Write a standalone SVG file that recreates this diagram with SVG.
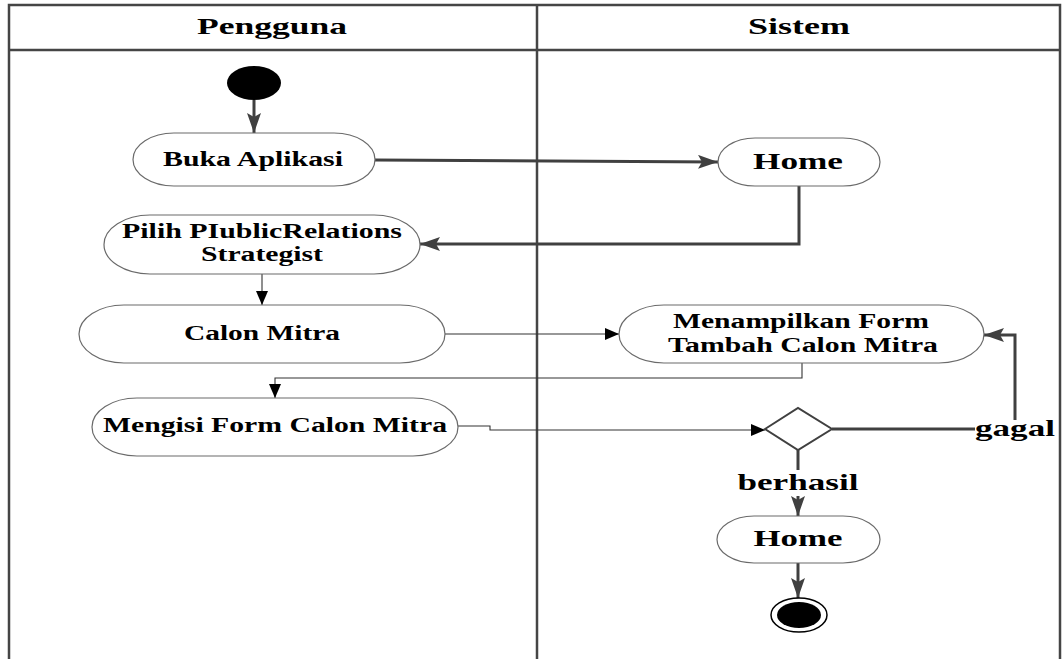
<svg xmlns="http://www.w3.org/2000/svg" width="1063" height="659" viewBox="0 0 1063 659">
  <style>
    .frame { fill: none; stroke: #454545; stroke-width: 2.5; }
    .act { fill: #fff; stroke: #6a6a6a; stroke-width: 1.2; }
    .lbl { font-family: "Liberation Serif", "Times New Roman", serif; font-weight: bold; fill: #000; }
    .thick { fill: none; stroke: #404040; stroke-width: 3; }
    .thin { fill: none; stroke: #333; stroke-width: 1.1; }
  </style>
  <defs>
    <marker id="bigArrow" markerUnits="userSpaceOnUse" markerWidth="22" markerHeight="16" refX="20" refY="7" orient="auto">
      <path d="M0,0 L20,7 L0,14 L4,7 Z" fill="#404040"/>
    </marker>
    <marker id="smallArrow" markerUnits="userSpaceOnUse" markerWidth="16" markerHeight="14" refX="14" refY="6" orient="auto">
      <path d="M0,0 L14,6 L0,12 Z" fill="#000"/>
    </marker>
  </defs>

  <rect width="1063" height="659" fill="#fff"/>

  <!-- swimlane frame -->
  <g id="lanes">
    <path class="frame" d="M9,670 L9,5 L1060,5 L1060,670"/>
    <line class="frame" x1="9" y1="50" x2="1060" y2="50"/>
    <line class="frame" x1="537" y1="5" x2="537" y2="670"/>
    <text class="lbl" x="272" y="34" font-size="23" text-anchor="middle" textLength="150" lengthAdjust="spacingAndGlyphs">Pengguna</text>
    <text class="lbl" x="799" y="34" font-size="23" text-anchor="middle" textLength="102" lengthAdjust="spacingAndGlyphs">Sistem</text>
  </g>

  <!-- connectors -->
  <g id="connectors">
    <line class="thick" x1="254" y1="100" x2="254" y2="133" marker-end="url(#bigArrow)"/>
    <line class="thick" x1="375" y1="160" x2="718" y2="162" marker-end="url(#bigArrow)"/>
    <polyline class="thick" points="799,186 799,244 420,244" marker-end="url(#bigArrow)"/>
    <line class="thin" x1="262" y1="274" x2="262" y2="305" marker-end="url(#smallArrow)"/>
    <line class="thin" x1="445" y1="334" x2="619" y2="334" marker-end="url(#smallArrow)"/>
    <polyline class="thin" points="802,363 802,378 275,378 275,398" marker-end="url(#smallArrow)"/>
    <polyline class="thin" points="458,426 490,426 490,430 765,430" marker-end="url(#smallArrow)"/>
    <line class="thick" x1="832" y1="429" x2="975" y2="429"/>
    <polyline class="thick" points="1015,420 1015,335 984,335" marker-end="url(#bigArrow)"/>
    <line class="thick" x1="798" y1="450" x2="798" y2="470"/>
    <line class="thick" x1="798" y1="496" x2="798" y2="516" marker-end="url(#bigArrow)"/>
    <line class="thick" x1="798" y1="563" x2="798" y2="598" marker-end="url(#bigArrow)"/>
    <text class="lbl" x="1015" y="436" font-size="24" text-anchor="middle" textLength="80" lengthAdjust="spacingAndGlyphs">gagal</text>
    <text class="lbl" x="798" y="490" font-size="24" text-anchor="middle" textLength="121" lengthAdjust="spacingAndGlyphs">berhasil</text>
  </g>

  <g id="start">
    <ellipse cx="254" cy="83" rx="27" ry="17" fill="#000"/>
  </g>

  <g id="buka-aplikasi">
    <rect class="act" x="133" y="133" width="242" height="53" rx="41" ry="26.5"/>
    <text class="lbl" x="253" y="166" font-size="20" text-anchor="middle" textLength="180" lengthAdjust="spacingAndGlyphs">Buka Aplikasi</text>
  </g>

  <g id="home-1">
    <rect class="act" x="718" y="138" width="162" height="48" rx="37" ry="24"/>
    <text class="lbl" x="798" y="169" font-size="24" text-anchor="middle" textLength="90" lengthAdjust="spacingAndGlyphs">Home</text>
  </g>

  <g id="pilih-pr">
    <rect class="act" x="104" y="215" width="316" height="59" rx="46" ry="29.5"/>
    <text class="lbl" x="262" y="238" font-size="20" text-anchor="middle" textLength="280" lengthAdjust="spacingAndGlyphs">Pilih PIublicRelations</text>
    <text class="lbl" x="262" y="261" font-size="20" text-anchor="middle" textLength="122" lengthAdjust="spacingAndGlyphs">Strategist</text>
  </g>

  <g id="calon-mitra">
    <rect class="act" x="79" y="305" width="366" height="58" rx="45" ry="29"/>
    <text class="lbl" x="262" y="340" font-size="20" text-anchor="middle" textLength="156" lengthAdjust="spacingAndGlyphs">Calon Mitra</text>
  </g>

  <g id="menampilkan-form">
    <rect class="act" x="619" y="305" width="365" height="58" rx="45" ry="29"/>
    <text class="lbl" x="801" y="328" font-size="20" text-anchor="middle" textLength="256" lengthAdjust="spacingAndGlyphs">Menampilkan Form</text>
    <text class="lbl" x="803" y="352" font-size="20" text-anchor="middle" textLength="270" lengthAdjust="spacingAndGlyphs">Tambah Calon Mitra</text>
  </g>

  <g id="mengisi-form">
    <rect class="act" x="92" y="398" width="366" height="58" rx="45" ry="29"/>
    <text class="lbl" x="275" y="432" font-size="20" text-anchor="middle" textLength="344" lengthAdjust="spacingAndGlyphs">Mengisi Form Calon Mitra</text>
  </g>

  <g id="decision">
    <polygon points="765,429 798,408 832,429 798,450" fill="#fff" stroke="#404040" stroke-width="2"/>
  </g>

  <g id="home-2">
    <rect class="act" x="717" y="516" width="163" height="47" rx="37" ry="23.5"/>
    <text class="lbl" x="798" y="546" font-size="24" text-anchor="middle" textLength="89" lengthAdjust="spacingAndGlyphs">Home</text>
  </g>

  <g id="end">
    <ellipse cx="799" cy="615" rx="28" ry="17" fill="#fff" stroke="#000" stroke-width="1.5"/>
    <ellipse cx="799" cy="615" rx="22" ry="13" fill="#000"/>
  </g>
</svg>
